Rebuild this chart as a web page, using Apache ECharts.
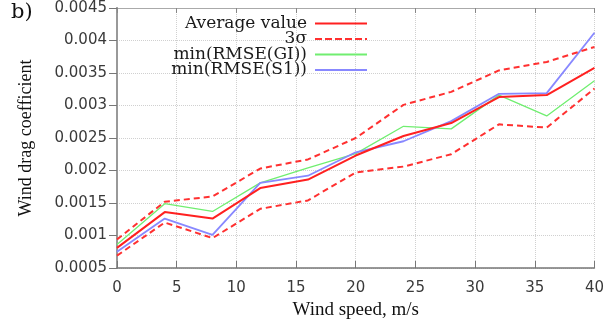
<!DOCTYPE html>
<html>
<head>
<meta charset="utf-8">
<script src="https://cdn.jsdelivr.net/npm/echarts@6/dist/echarts.min.js"></script>
<style>html,body{margin:0;padding:0;background:#fff;}#c{width:607px;height:325px;}</style>
</head>
<body>
<div id="c"></div>
<script>
const windSpeed = [0, 4, 8, 12, 16, 20, 24, 28, 32, 36, 40];
const averageValue = [0.00081, 0.00136, 0.00126, 0.00173, 0.00186, 0.00223, 0.00253, 0.00273, 0.00313, 0.00316, 0.00358];
const sigmaUpper = [0.00094, 0.00152, 0.00160, 0.00203, 0.00217, 0.00250, 0.00301, 0.00321, 0.00354, 0.00367, 0.00390];
const sigmaLower = [0.00069, 0.00120, 0.00096, 0.00141, 0.00154, 0.00197, 0.00206, 0.00225, 0.00271, 0.00266, 0.00326];
const rmseGI = [0.00086, 0.00149, 0.00137, 0.00181, 0.00204, 0.00226, 0.00268, 0.00264, 0.00316, 0.00284, 0.00338];
const rmseS1 = [0.00075, 0.00126, 0.00101, 0.00181, 0.00192, 0.00228, 0.00245, 0.00276, 0.00318, 0.00319, 0.00412];
const seriesNames = ['Average value', '3σ', 'min(RMSE(GI))', 'min(RMSE(S1))'];

const pairs = (ys) => windSpeed.map((x, i) => [x, ys[i]]);
const fmtY = (v) => String(+v.toFixed(4));

const solidIcon = 'path://M0,0H52V2H0Z';
const dashedIcon = 'path://M0,0H7V2H0Z M10,0H17V2H10Z M20,0H27V2H20Z M30,0H37V2H30Z M40,0H47V2H40Z M50,0H52V2H50Z';

const chart = echarts.init(document.getElementById('c'), null, {renderer: 'canvas'});
const tickFont = {fontFamily: 'DejaVu Sans', fontSize: 15, color: '#3a3a3a'};
chart.setOption({
  animation: false,
  backgroundColor: '#fff',
  grid: {left: 117, right: 10, top: 8, bottom: 50},
  graphic: [{type: 'text', left: 11, top: 2, style: {text: 'b)', font: '21px "DejaVu Serif"', fill: '#111'}}],
  legend: {
    data: [
      {name: seriesNames[0], icon: solidIcon},
      {name: seriesNames[1], icon: dashedIcon},
      {name: seriesNames[2], icon: solidIcon},
      {name: seriesNames[3], icon: solidIcon}
    ],
    orient: 'vertical',
    align: 'right',
    right: 235,
    top: 10,
    itemWidth: 52,
    itemHeight: 2,
    itemGap: -1.5,
    symbolKeepAspect: false,
    textStyle: {fontFamily: 'DejaVu Serif', fontSize: 17, lineHeight: 15, color: '#1a1a1a', padding: [0, 3, 0, 0]}
  },
  xAxis: [{
    type: 'value', min: 0, max: 40, interval: 5,
    name: 'Wind speed, m/s', nameLocation: 'middle', nameGap: 33,
    nameTextStyle: {fontFamily: 'Liberation Serif', fontSize: 19, color: '#111'},
    axisLine: {lineStyle: {color: '#777', width: 1.5}},
    axisTick: {inside: true, length: 7, lineStyle: {color: '#777'}},
    axisLabel: Object.assign({margin: 13}, tickFont),
    splitLine: {show: true, lineStyle: {color: '#d0d0d0', type: 'dotted'}}
  }, {
    type: 'value', min: 0, max: 40, interval: 5, position: 'top',
    axisLine: {show: true, lineStyle: {color: '#aaa'}},
    axisTick: {show: true, inside: true, length: 5, lineStyle: {color: '#888'}},
    axisLabel: {show: false}, splitLine: {show: false}
  }],
  yAxis: [{
    type: 'value', min: 0.0005, max: 0.0045, interval: 0.0005,
    name: 'Wind drag coefficient', nameLocation: 'middle', nameGap: 82,
    nameTextStyle: {fontFamily: 'Liberation Serif', fontSize: 18, color: '#111'},
    axisLine: {show: true, lineStyle: {color: '#777', width: 1.5}},
    axisTick: {show: true, inside: false, length: 8, lineStyle: {color: '#777'}},
    axisLabel: Object.assign({margin: 10, formatter: fmtY}, tickFont),
    splitLine: {show: true, lineStyle: {color: '#d0d0d0', type: 'dotted'}}
  }, {
    type: 'value', min: 0.0005, max: 0.0045, interval: 0.0005, position: 'right',
    axisLine: {show: true, lineStyle: {color: '#999', width: 2}},
    axisTick: {show: true, inside: true, length: 7, lineStyle: {color: '#777'}},
    axisLabel: {show: false}, splitLine: {show: false}
  }],
  series: [
    {name: seriesNames[0], type: 'line', data: pairs(averageValue), symbol: 'none', z: 5,
     lineStyle: {color: '#ff2020', width: 2}, itemStyle: {color: '#ff2020'}},
    {name: seriesNames[1], type: 'line', data: pairs(sigmaUpper), symbol: 'none', z: 4,
     lineStyle: {color: '#ff3030', width: 2, type: [6, 4]}, itemStyle: {color: '#ff3030'}},
    {name: seriesNames[1], type: 'line', data: pairs(sigmaLower), symbol: 'none', z: 4,
     lineStyle: {color: '#ff3030', width: 2, type: [6, 4]}, itemStyle: {color: '#ff3030'}},
    {name: seriesNames[2], type: 'line', data: pairs(rmseGI), symbol: 'none', z: 3,
     lineStyle: {color: '#70ee70', width: 1.3}, itemStyle: {color: '#70ee70'}},
    {name: seriesNames[3], type: 'line', data: pairs(rmseS1), symbol: 'none', z: 3,
     lineStyle: {color: '#8888ff', width: 1.8}, itemStyle: {color: '#8888ff'}}
  ]
});
</script>
</body>
</html>
